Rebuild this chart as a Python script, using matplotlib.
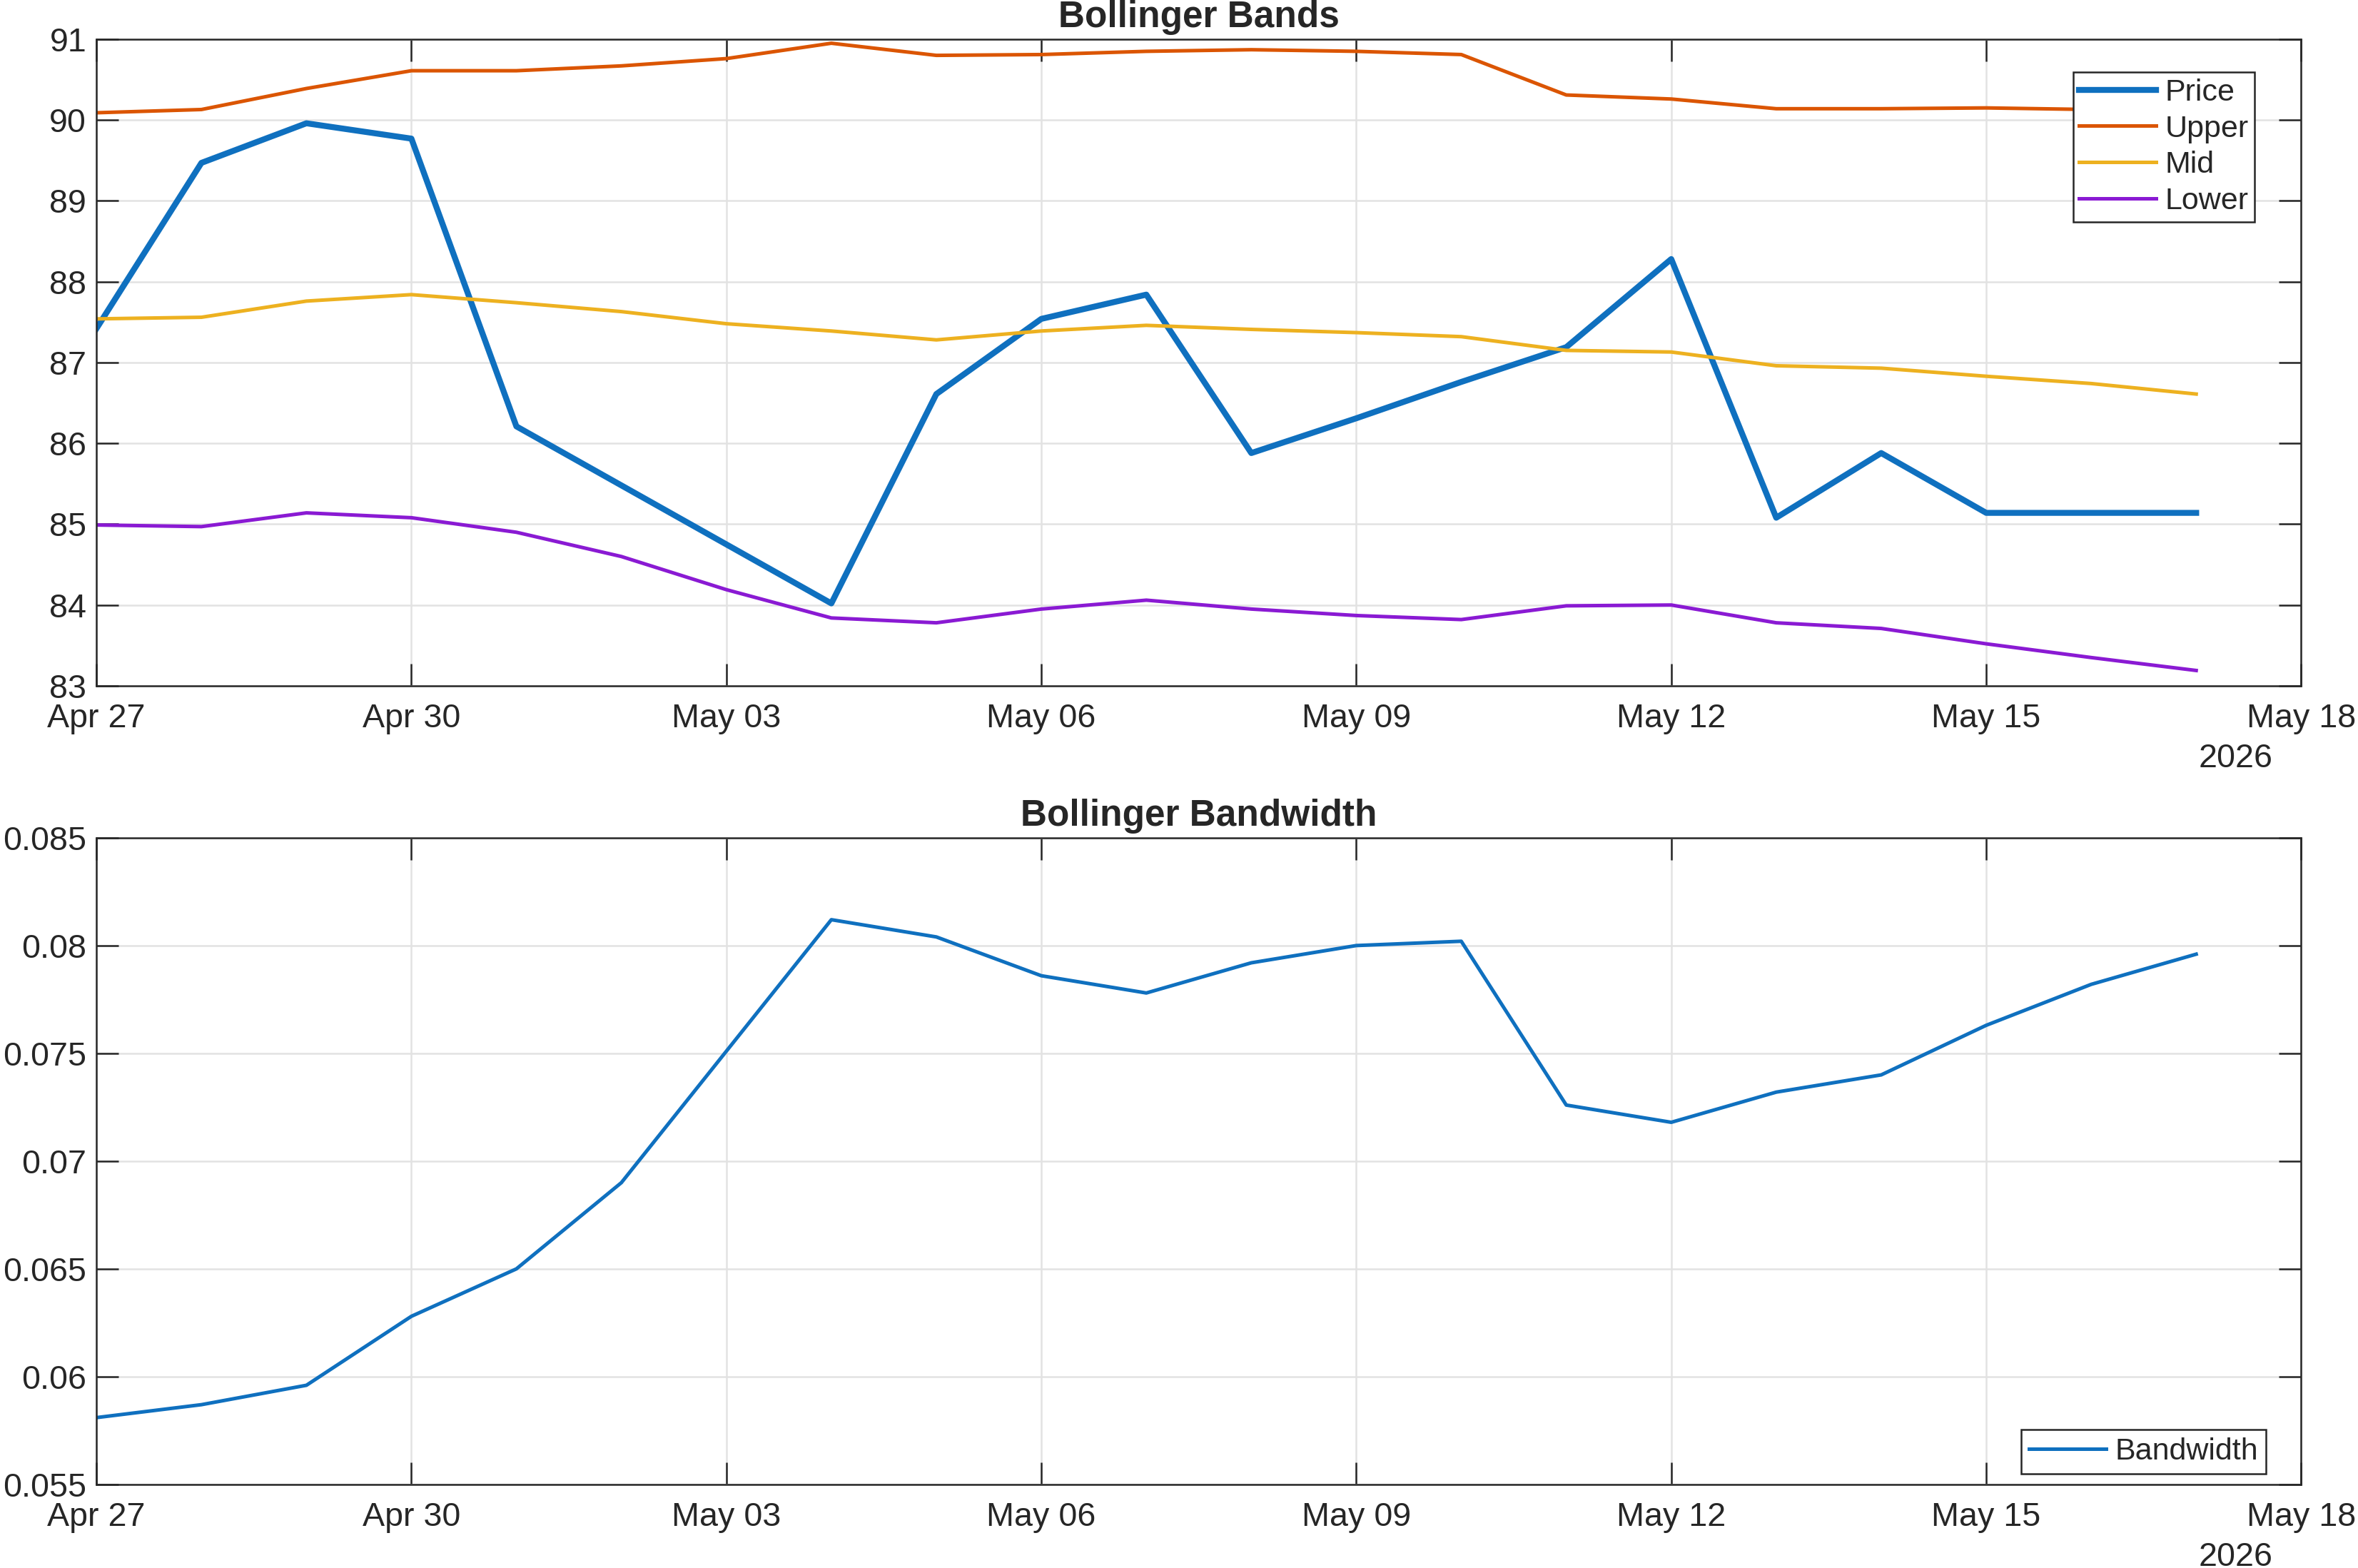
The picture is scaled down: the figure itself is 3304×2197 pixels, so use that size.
import numpy as np
import matplotlib
matplotlib.use("Agg")
import matplotlib.pyplot as plt
import matplotlib.dates as mdates

plt.rcParams['font.family'] = ['Liberation Sans', 'DejaVu Sans']

# daily observations, Apr 27 .. May 17 2026
dates = np.arange(np.datetime64('2026-04-27'), np.datetime64('2026-05-18'))

price = [87.42, 89.47, 89.96, 89.77, 86.21, 85.48, 84.75, 84.02, 86.61, 87.54,
         87.84, 85.88, 86.31, 86.76, 87.19, 88.28, 85.08, 85.88, 85.14, 85.14, 85.14]
upper = [90.09, 90.13, 90.39, 90.61, 90.61, 90.67, 90.76, 90.95, 90.80, 90.81,
         90.85, 90.87, 90.85, 90.81, 90.31, 90.26, 90.14, 90.14, 90.15, 90.13, 90.09]
mid = [87.54, 87.56, 87.76, 87.84, 87.74, 87.63, 87.48, 87.39, 87.28, 87.39,
       87.46, 87.41, 87.37, 87.32, 87.15, 87.13, 86.96, 86.93, 86.83, 86.74, 86.61]
lower = [84.99, 84.97, 85.14, 85.08, 84.90, 84.60, 84.19, 83.84, 83.78, 83.95,
         84.06, 83.95, 83.87, 83.82, 83.99, 84.00, 83.78, 83.71, 83.52, 83.35, 83.19]
bandwidth = [0.0581, 0.0587, 0.0596, 0.0628, 0.0650, 0.0690, 0.0751, 0.0812, 0.0804, 0.0786,
             0.0778, 0.0792, 0.0800, 0.0802, 0.0726, 0.0718, 0.0732, 0.0740, 0.0763, 0.0782, 0.0796]

x_ticks = np.arange(np.datetime64('2026-04-27'), np.datetime64('2026-05-19'), 3)
bands_yticks = np.arange(83, 92)
bw_yticks = [0.055, 0.06, 0.065, 0.07, 0.075, 0.08, 0.085]

c_blue = '#0F70BF'
c_orange = '#DB5502'
c_yellow = '#EDB120'
c_purple = '#8A1AD3'
axcol = '#262626'

fig = plt.figure(figsize=(16.52, 10.985), dpi=200)
ax1 = fig.add_axes([0.0409, 0.5626, 0.935, 0.4124])
ax2 = fig.add_axes([0.0409, 0.0533, 0.935, 0.4124])


def style(ax, yticks, title):
    ax.set_xlim(np.datetime64('2026-04-27'), np.datetime64('2026-05-18'))
    ax.set_xticks(x_ticks)
    ax.xaxis.set_major_formatter(mdates.DateFormatter('%b %d'))
    ax.set_yticks(yticks)
    ax.set_ylim(yticks[0], yticks[-1])
    ax.grid(True, color='#E2E2E2', linewidth=0.9)
    ax.set_axisbelow(True)
    for s in ax.spines.values():
        s.set_color(axcol)
        s.set_linewidth(0.9)
    ax.tick_params(direction='in', length=11, width=0.9, color=axcol,
                   labelcolor=axcol, labelsize=16.8, top=True, right=True)
    ax.tick_params(axis='x', pad=8.5)
    ax.tick_params(axis='y', pad=5)
    ax.set_title(title, fontsize=18.5, fontweight='bold', color=axcol, pad=6)
    ax.text(0.987, -0.088, '2026', transform=ax.transAxes, ha='right', va='top',
            fontsize=16.8, color=axcol)


ax1.plot(dates, price, color=c_blue, lw=3.0, label='Price')
ax1.plot(dates, upper, color=c_orange, lw=1.8, label='Upper')
ax1.plot(dates, mid, color=c_yellow, lw=1.8, label='Mid')
ax1.plot(dates, lower, color=c_purple, lw=1.8, label='Lower')
style(ax1, bands_yticks, 'Bollinger Bands')
ax1.yaxis.set_major_formatter(matplotlib.ticker.FormatStrFormatter('%d'))
leg1 = ax1.legend(loc='upper right', bbox_to_anchor=(0.979, 0.949), borderaxespad=0,
                  fontsize=15.5, fancybox=False, framealpha=1, edgecolor=axcol,
                  handlelength=2.5, handletextpad=0.3, labelspacing=0.25, borderpad=0.2)
leg1.get_frame().set_linewidth(0.9)
for t in leg1.get_texts():
    t.set_color(axcol)

ax2.plot(dates, bandwidth, color=c_blue, lw=1.8, label='Bandwidth')
style(ax2, bw_yticks, 'Bollinger Bandwidth')
ax2.yaxis.set_major_formatter(matplotlib.ticker.FormatStrFormatter('%g'))
leg2 = ax2.legend(loc='lower right', bbox_to_anchor=(0.984, 0.0166), borderaxespad=0,
                  fontsize=15.5, fancybox=False, framealpha=1, edgecolor=axcol,
                  handlelength=2.5, handletextpad=0.3, borderpad=0.25)
leg2.get_frame().set_linewidth(0.9)
for t in leg2.get_texts():
    t.set_color(axcol)

fig.savefig('out.png', dpi=200, facecolor='white')
